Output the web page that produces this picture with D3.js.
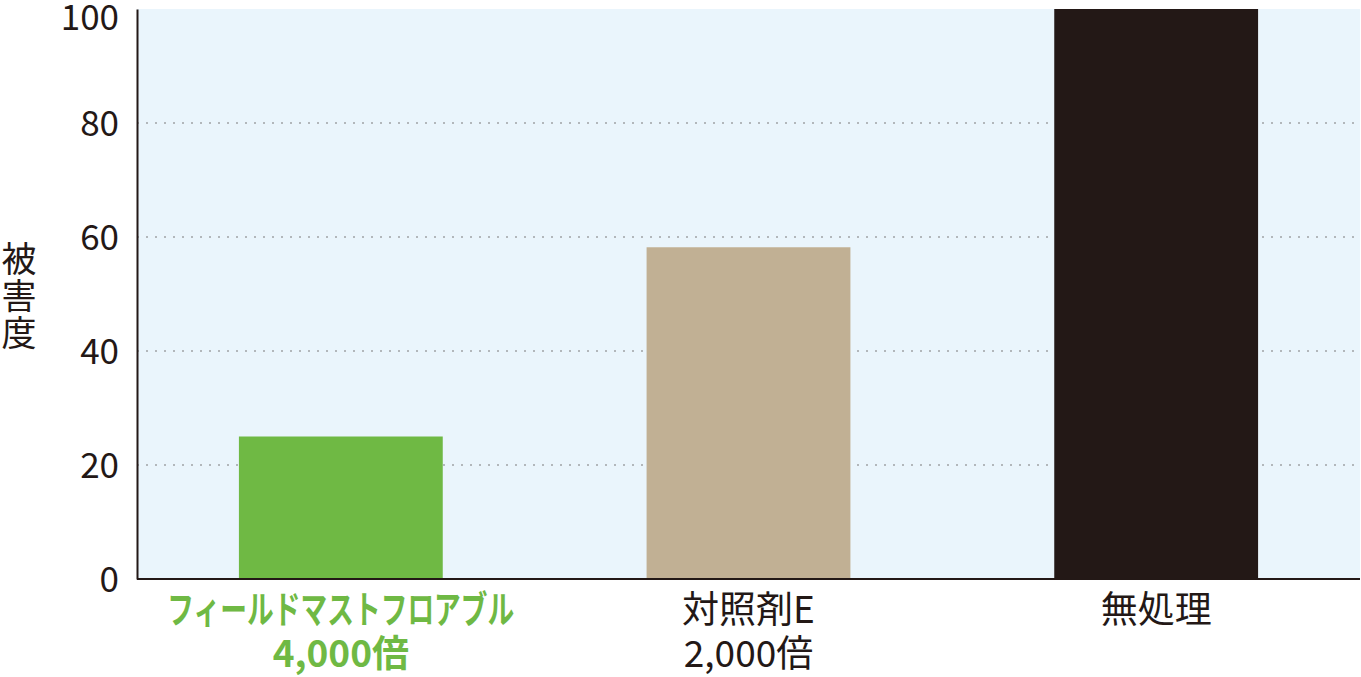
<!DOCTYPE html>
<html>
<head>
<meta charset="utf-8">
<script src="https://cdn.jsdelivr.net/npm/d3@7"></script>
<style>
  body { margin: 0; background: #fff; }
  svg text { font-family: "Noto Sans CJK JP", "Noto Sans", sans-serif; }
</style>
</head>
<body>
<svg id="chart" width="1361" height="677"></svg>
<script>
var categories = ["field", "control", "none"];
var label_lines = [
  ["フィールドマストフロアブル", "4,000倍"],
  ["対照剤E", "2,000倍"],
  ["無処理"]
];
var damage_values = [25, 58.2, 100];
var bar_colors = ["#6fb944", "#c1b094", "#231816"];
var label_colors = ["#6fb944", "#231816", "#231816"];
var label_weights = ["bold", "normal", "normal"];
var y_ticks = [0, 20, 40, 60, 80, 100];
var y_title = ["被", "害", "度"];

var svg = d3.select("#chart");
var margin = { left: 137, right: 1, top: 9, bottom: 98 };
var width = 1361 - margin.left - margin.right;
var height = 677 - margin.top - margin.bottom;

var g = svg.append("g").attr("transform", "translate(" + margin.left + "," + margin.top + ")");

var x = d3.scaleBand().domain(categories).range([0, width]).paddingInner(0.5).paddingOuter(0.25);
var y = d3.scaleLinear().domain([0, 100]).range([height, 0]);

// plot background
g.append("rect")
  .attr("x", 0).attr("y", y(100))
  .attr("width", width).attr("height", height - y(100))
  .attr("fill", "#eaf5fc");

// dotted grid lines
g.selectAll(".grid")
  .data(y_ticks.filter(function (d) { return d > 0 && d < 100; }))
  .enter().append("line")
  .attr("x1", 0).attr("x2", width)
  .attr("y1", function (d) { return y(d); })
  .attr("y2", function (d) { return y(d); })
  .attr("stroke", "#7a7a7a")
  .attr("stroke-width", 1.2)
  .attr("stroke-dasharray", "2,7");

// bars
g.selectAll(".bar")
  .data(categories)
  .enter().append("rect")
  .attr("x", function (d) { return x(d); })
  .attr("y", function (d, i) { return y(damage_values[i]); })
  .attr("width", x.bandwidth())
  .attr("height", function (d, i) { return height - y(damage_values[i]); })
  .attr("fill", function (d, i) { return bar_colors[i]; });

// y axis
var yAxis = g.append("g").call(d3.axisLeft(y).tickValues(y_ticks).tickSize(0).tickPadding(18));
yAxis.select(".domain").attr("stroke", "#231816").attr("stroke-width", 2);
yAxis.selectAll("text")
  .attr("fill", "#231816")
  .style("font-size", "35px")
  .attr("dy", function (d) { return d == 100 ? "0.58em" : "0.36em"; }); // top label sits a bit lower

// x axis line
g.append("line")
  .attr("x1", 0).attr("x2", width)
  .attr("y1", height).attr("y2", height)
  .attr("stroke", "#231816").attr("stroke-width", 2);

// category labels
categories.forEach(function (c, i) {
  var t = g.append("text")
    .attr("x", x(c) + x.bandwidth() / 2)
    .attr("y", height + 44)
    .attr("text-anchor", "middle")
    .attr("fill", label_colors[i])
    .style("font-size", "37px")
    .style("font-weight", label_weights[i]);
  label_lines[i].forEach(function (line, k) {
    var ts = t.append("tspan")
      .attr("x", x(c) + x.bandwidth() / 2)
      .attr("dy", k == 0 ? 0 : 44)
      .text(line);
    // katakana line is set condensed in the original
    if (i == 0 && k == 0) {
      ts.style("font-size", "38px")
        .attr("textLength", 347)
        .attr("lengthAdjust", "spacingAndGlyphs");
    }
  });
});

// vertical y title
svg.append("g").selectAll("text")
  .data(y_title)
  .enter().append("text")
  .attr("x", 19)
  .attr("y", function (d, i) { return 272 + i * 37; })
  .attr("text-anchor", "middle")
  .attr("fill", "#231816")
  .style("font-size", "35px")
  .text(function (d) { return d; });
</script>
</body>
</html>
